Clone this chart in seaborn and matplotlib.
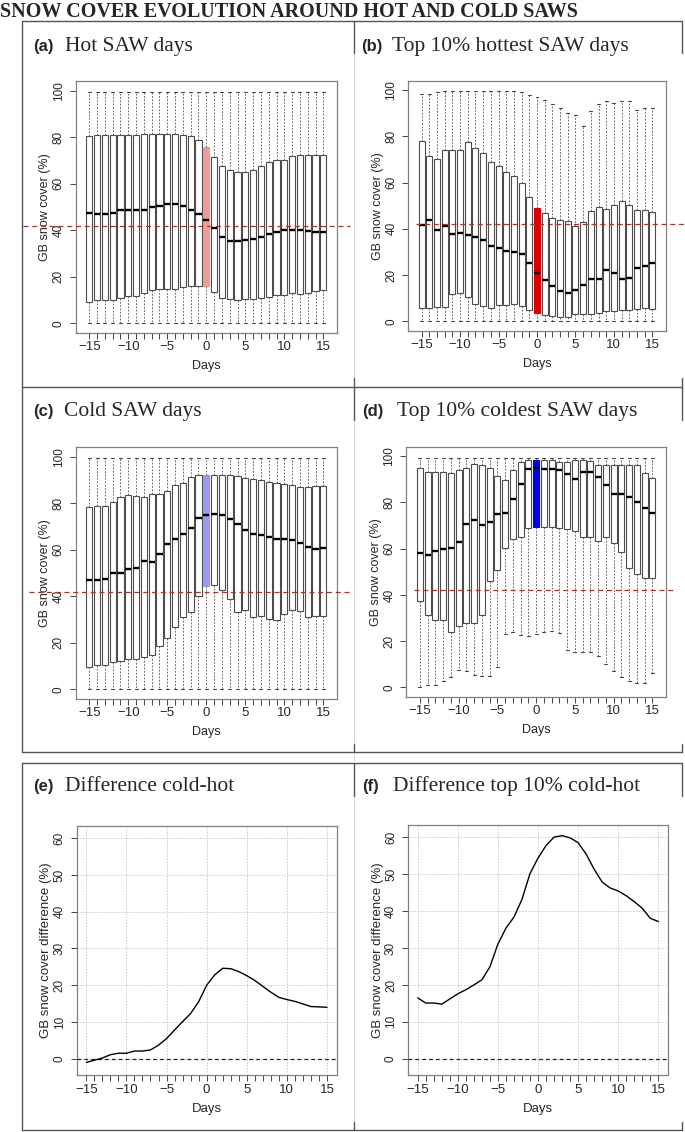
import numpy as np
import matplotlib
matplotlib.use("Agg")
import matplotlib.pyplot as plt
import seaborn as sns

# days around the SAW event
days = list(range(-15, 16))

# (a) hot SAW days
hot_hi = [99.5, 99.5, 99.5, 99.5, 99.5, 99.5, 99.5, 99.5, 99.5, 99.5, 99.5, 99.5, 99.5, 99.5, 99.5, 99.5,
          99.5, 99.5, 99.5, 99.5, 99.5, 99.5, 99.5, 99.5, 99.5, 99.5, 99.5, 99.5, 99.5, 99.5, 99.5]
hot_q3 = [80.4, 80.8, 80.8, 80.8, 81.0, 81.0, 80.8, 81.3, 81.3, 81.2, 81.2, 81.2, 81.0, 80.5, 79.0, 75.8,
          71.4, 67.7, 66.1, 64.9, 65.2, 66.1, 67.8, 69.5, 70.1, 70.2, 72.0, 72.5, 72.2, 72.4, 72.4]
hot_med = [47.5, 47.1, 47.1, 47.6, 48.5, 48.5, 48.5, 48.9, 49.9, 50.5, 51.2, 51.2, 50.5, 48.9, 47.1, 44.5,
           40.8, 37.2, 35.2, 35.5, 35.9, 36.3, 37.2, 38.3, 39.2, 40.3, 40.1, 40.1, 39.8, 39.1, 39.1]
hot_q1 = [9.0, 9.9, 9.9, 9.9, 11.0, 11.9, 11.9, 13.0, 14.2, 14.6, 14.9, 14.9, 15.7, 16.2, 16.2, 16.0,
          13.6, 10.7, 10.3, 10.2, 10.4, 10.4, 10.7, 11.4, 12.0, 12.2, 12.9, 12.7, 13.0, 13.7, 14.2]
hot_lo = [0.0, 0.0, 0.0, 0.0, 0.0, 0.0, 0.0, 0.0, 0.0, 0.0, 0.0, 0.0, 0.0, 0.0, 0.0, 0.0,
          0.0, 0.0, 0.0, 0.0, 0.0, 0.0, 0.0, 0.0, 0.0, 0.0, 0.0, 0.0, 0.0, 0.0, 0.0]

# (b) top 10% hottest SAW days
hottest_hi = [98.1, 98.4, 99.1, 99.6, 99.6, 99.6, 99.6, 99.6, 99.6, 99.6, 99.6, 99.6, 99.6, 99.0, 98.0, 96.8,
              95.7, 93.8, 92.1, 89.9, 89.0, 84.3, 90.9, 93.8, 95.2, 94.5, 95.2, 95.2, 91.4, 92.1, 92.1]
hottest_q3 = [78.0, 71.5, 70.0, 73.9, 74.2, 74.1, 77.7, 74.9, 72.6, 68.7, 67.1, 64.6, 62.8, 59.8, 53.9, 49.0,
              46.7, 44.7, 43.9, 43.2, 41.1, 42.8, 47.7, 49.4, 48.6, 50.4, 52.0, 50.3, 48.1, 48.0, 47.1]
hottest_med = [41.5, 43.7, 39.5, 41.2, 37.8, 38.0, 37.3, 36.5, 35.3, 32.6, 31.8, 30.5, 29.8, 29.1, 25.2, 20.7,
               17.9, 15.4, 13.0, 12.1, 13.5, 15.6, 18.4, 18.2, 22.2, 21.0, 18.2, 18.7, 23.2, 24.1, 25.2]
hottest_q1 = [5.8, 5.9, 6.0, 6.0, 11.8, 12.1, 10.4, 7.3, 6.5, 5.9, 7.2, 7.1, 7.3, 6.5, 4.9, 3.5,
              2.9, 2.4, 1.9, 2.0, 3.0, 3.3, 3.2, 3.5, 4.3, 4.3, 4.8, 5.0, 5.2, 5.6, 5.5]
hottest_lo = hot_lo

# (c) cold SAW days
cold_hi = hot_hi
cold_q3 = [78.5, 78.7, 78.7, 80.4, 82.8, 83.4, 83.0, 82.5, 83.8, 84.1, 85.4, 87.7, 88.5, 91.1, 92.0, 92.3,
           92.3, 92.0, 92.0, 91.7, 91.0, 90.3, 90.0, 89.3, 88.8, 88.1, 87.7, 87.1, 87.0, 87.4, 87.2]
cold_med = [47.1, 47.1, 47.4, 50.1, 50.1, 51.7, 52.1, 55.0, 54.7, 58.0, 62.5, 64.6, 66.6, 69.2, 73.5, 75.1,
            75.2, 74.8, 73.4, 71.1, 68.5, 66.9, 66.3, 65.3, 64.8, 64.6, 64.0, 62.8, 61.0, 60.5, 60.9]
cold_q1 = [9.5, 10.5, 10.5, 11.9, 12.2, 13.0, 13.2, 13.8, 14.6, 18.8, 21.9, 26.6, 31.2, 33.1, 40.3, 44.6,
           44.7, 42.7, 39.0, 33.3, 34.3, 31.0, 31.5, 30.2, 30.0, 32.2, 34.0, 33.5, 31.2, 31.5, 31.3]
cold_lo = hot_lo

# (d) top 10% coldest SAW days
coldest_hi = [99.3, 99.3, 99.3, 99.3, 99.3, 99.3, 99.3, 99.3, 99.3, 99.3, 99.3, 99.3, 99.3, 99.3, 99.3, 99.3,
              99.3, 99.3, 99.3, 99.3, 99.3, 99.3, 99.3, 99.3, 99.3, 99.3, 99.3, 99.3, 99.3, 99.3, 99.3]
coldest_q3 = [94.7, 93.2, 93.2, 93.2, 92.9, 93.9, 94.7, 96.7, 96.4, 94.7, 91.6, 89.9, 94.2, 97.3, 98.4, 98.4,
              98.4, 98.4, 97.5, 97.5, 98.3, 98.4, 98.1, 96.4, 96.2, 96.4, 96.4, 96.4, 96.4, 92.6, 90.5]
coldest_med = [58.3, 57.4, 58.9, 60.0, 60.5, 62.9, 70.7, 72.2, 70.4, 71.6, 75.2, 75.6, 81.5, 88.2, 94.5, 94.7,
               94.5, 94.5, 94.1, 92.2, 90.0, 93.2, 93.2, 91.1, 87.7, 83.7, 83.7, 82.3, 80.4, 77.8, 75.3]
coldest_q1 = [37.2, 31.5, 29.0, 29.0, 24.1, 26.7, 27.8, 27.7, 31.5, 46.0, 50.9, 60.3, 64.2, 65.2, 69.1, 69.4,
              69.4, 69.3, 68.8, 68.7, 67.7, 64.9, 64.9, 63.5, 64.9, 62.6, 58.4, 51.5, 48.9, 47.3, 47.2]
coldest_lo = [0.0, 1.0, 0.9, 2.9, 4.3, 7.6, 6.9, 5.2, 4.9, 4.9, 8.8, 23.1, 24.1, 22.7, 22.2, 23.1,
              24.1, 24.4, 23.4, 16.0, 15.2, 15.2, 15.2, 13.6, 10.0, 7.1, 4.6, 2.7, 2.0, 1.7, 6.2]

# (e) / (f) differences cold - hot
diff_all = [-1.0, -0.4, 0.2, 1.1, 1.5, 1.5, 2.1, 2.1, 2.4, 3.7, 5.5, 7.8, 10.1, 12.3, 15.5, 20.0,
            22.8, 24.6, 24.5, 23.7, 22.6, 21.3, 19.7, 18.1, 16.7, 16.1, 15.6, 14.9, 14.2, 14.1, 14.0]
diff_top = [16.5, 15.1, 15.1, 14.8, 16.2, 17.6, 18.7, 20.0, 21.4, 24.9, 31.1, 35.4, 38.4, 43.2, 50.2, 54.4,
            57.8, 60.1, 60.5, 59.9, 58.6, 55.5, 51.4, 47.9, 46.3, 45.5, 44.2, 42.6, 40.8, 38.1, 37.2]

mean_cover = 42.0

sns.set_style("ticks")
plt.rcParams['font.family'] = ['Liberation Sans', 'DejaVu Sans']

W, H = 685, 1132
fig = plt.figure(figsize=(W / 100, H / 100), dpi=100)
fig.patch.set_facecolor("white")

# background axes in pixel coords for frames and headings
bg = fig.add_axes([0, 0, 1, 1], zorder=-1)
bg.set_xlim(0, W)
bg.set_ylim(H, 0)
bg.axis("off")

dark = "#555555"
for y in [21, 387, 752, 763, 1130]:
    bg.plot([22, 682], [y, y], color=dark, lw=1.0)
bg.plot([22, 22], [21, 752], color=dark, lw=1.0)
bg.plot([22, 22], [763, 1130], color=dark, lw=1.0)
bg.plot([354, 354], [21, 1130], color="#d0d0d0", lw=0.6)
for x in [354, 682]:
    for y0, y1 in [(21, 53), (378, 420), (744, 752), (763, 796), (1122, 1130)]:
        bg.plot([x, x], [y0, y1], color=dark, lw=1.0)

bg.text(0, 17, "SNOW COVER EVOLUTION AROUND HOT AND COLD SAWS", family="Liberation Serif",
        fontweight="bold", fontsize=14.5, va="baseline", ha="left")

headers = [
    (33, 65, 51, "(a)", "Hot SAW days"),
    (361, 392, 51, "(b)", "Top 10% hottest SAW days"),
    (33, 64, 416, "(c)", "Cold SAW days"),
    (362, 397, 416, "(d)", "Top 10% coldest SAW days"),
    (33, 65, 791, "(e)", "Difference cold-hot"),
    (362, 393, 791, "(f)", "Difference top 10% cold-hot"),
]
for xl, xt, yb, lab, txt in headers:
    bg.text(xl, yb, lab, fontweight="bold", fontsize=12, va="baseline", ha="left")
    bg.text(xt, yb, txt, family="Liberation Serif", fontsize=15.5, va="baseline", ha="left")


def make_ax(left, right, top, bottom):
    ax = fig.add_axes([left / W, 1 - bottom / H, (right - left) / W, (bottom - top) / H])
    ax.set_facecolor("none")
    for s in ax.spines.values():
        s.set_color("#808080")
        s.set_linewidth(0.9)
        s.set_visible(True)
    ax.tick_params(axis="both", which="both", direction="out", length=4, width=0.7,
                   color="#444444")
    ax.tick_params(axis="y", labelrotation=90, pad=4, labelsize=8.5)
    ax.tick_params(axis="x", pad=2, labelsize=9.5)
    return ax


def box_panel(ax, lo, q1, med, q3, hi, hl, ext):
    stats = [dict(whislo=a, q1=b, med=c, q3=d, whishi=e, fliers=[])
             for a, b, c, d, e in zip(lo, q1, med, q3, hi)]
    res = ax.bxp(stats, positions=days, widths=0.78, capwidths=0.39, patch_artist=True,
                 manage_ticks=False, showfliers=False,
                 boxprops=dict(facecolor="white", edgecolor="#4d4d4d", lw=0.8),
                 medianprops=dict(color="black", lw=1.7, solid_capstyle="butt"),
                 whiskerprops=dict(color="#555555", lw=0.6, ls=(0, (2.2, 1.8))),
                 capprops=dict(color="#444444", lw=0.8))
    res["boxes"][days.index(0)].set_facecolor(hl)
    res["boxes"][days.index(0)].set_edgecolor(hl)
    ax.set_xlim(-16.74, 16.74)
    ax.set_ylim(-4, 104)
    ax.set_xticks(range(-15, 16, 5))
    ax.set_xticks(days, minor=True)
    ax.set_yticks(range(0, 101, 20))
    ax.plot(ext, [mean_cover, mean_cover], color="#a83232", lw=0.9, ls=(0, (4, 3)),
            transform=ax.get_yaxis_transform(), clip_on=False, zorder=5)
    ax.set_xlabel("Days", fontsize=9, labelpad=5)
    ax.set_ylabel("GB snow cover (%)", fontsize=9, labelpad=1)
    for t in ax.get_yticklabels():
        t.set_va("center")


ax_a = make_ax(75.7, 336.9, 81.4, 332.6)
box_panel(ax_a, hot_lo, hot_q1, hot_med, hot_q3, hot_hi, "#f29a9a", [-0.2, 1.05])
ax_b = make_ax(408.3, 665.7, 80.7, 330.6)
box_panel(ax_b, hottest_lo, hottest_q1, hottest_med, hottest_q3, hottest_hi, "#dd0000", [0.03, 1.07])
ax_c = make_ax(75.7, 336.9, 447.4, 698.6)
box_panel(ax_c, cold_lo, cold_q1, cold_med, cold_q3, cold_hi, "#9a9af5", [-0.18, 1.05])
ax_d = make_ax(406.5, 665.8, 447.0, 696.6)
box_panel(ax_d, coldest_lo, coldest_q1, coldest_med, coldest_q3, coldest_hi, "#0000ee", [0.03, 1.04])


def diff_panel(ax, vals):
    ax.grid(True, which="major", color="#c8c8c8", ls=(0, (1.5, 1.5)), lw=0.7)
    ax.axhline(0, color="#222222", lw=0.9, ls=(0, (3, 2.5)), zorder=3)
    sns.lineplot(x=days, y=vals, ax=ax, color="black", lw=1.0, zorder=4)
    ax.set_xlim(-16.2, 16.2)
    ax.set_ylim(-4.5, 63.3)
    ax.set_xticks(range(-15, 16, 5))
    ax.set_xticks(days, minor=True)
    ax.set_yticks(range(0, 61, 10))
    ax.set_xlabel("Days", fontsize=9.5, labelpad=5)
    ax.set_ylabel("GB snow cover difference (%)", fontsize=9.5, labelpad=1)
    for t in ax.get_yticklabels():
        t.set_va("center")


ax_e = make_ax(76.7, 336.6, 826.0, 1075.3)
diff_panel(ax_e, diff_all)
ax_f = make_ax(408.1, 667.9, 825.3, 1075.3)
diff_panel(ax_f, diff_top)

fig.savefig("out.png", dpi=100)
